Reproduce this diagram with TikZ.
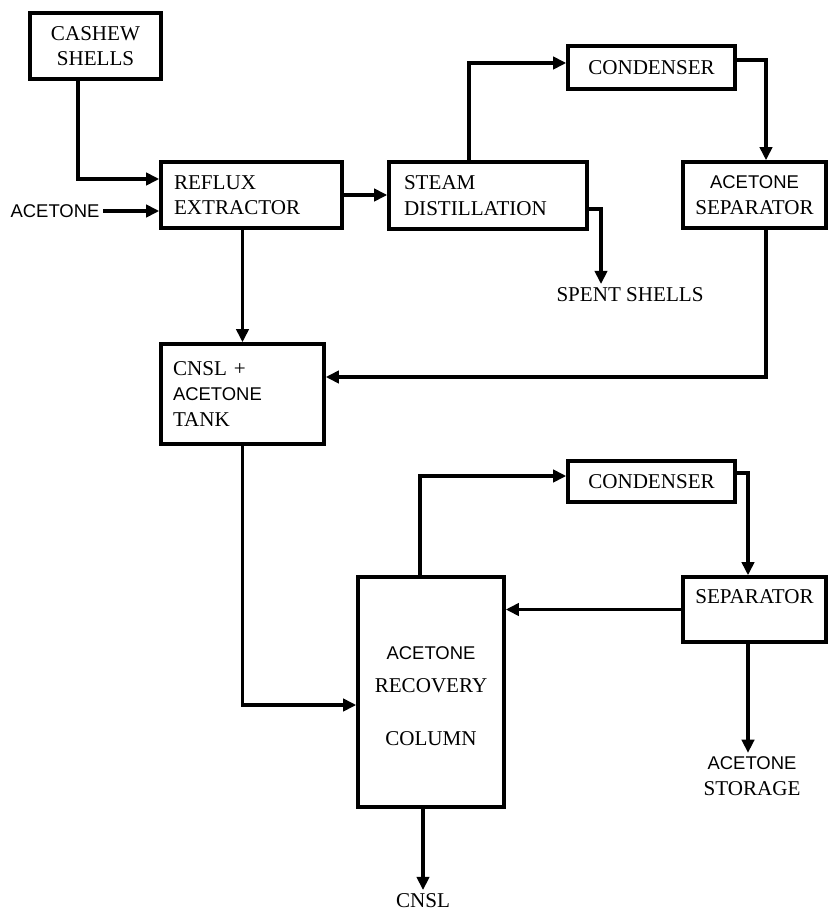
\documentclass[tikz,border=0pt]{standalone}
\usepackage{fontspec}
\setmainfont{Liberation Serif}
\setsansfont{Liberation Sans}
\usepackage{tikz}
\usetikzlibrary{calc,arrows.meta,positioning}
\newcommand{\sanstext}[1]{{\sffamily\fontsize{10.5}{12}\selectfont #1}}

\begin{document}
\begin{tikzpicture}[
  x=0.02cm, y=-0.02cm,
  box/.style={draw, line width=2pt, inner sep=0, align=center, font=\fontsize{12}{14.5}\selectfont},
  lbox/.style={box, align=left},
  lab/.style={align=center, inner sep=2pt, font=\fontsize{12}{14.5}\selectfont},
  arr/.style={-{Triangle[length=7.5pt, width=7pt]}, line width=1.9pt}
]
\useasboundingbox (0,0) rectangle (830,912);
% first stage: extraction
\node[box, minimum width=2.62cm, minimum height=1.32cm] (cashew) at (95.5,46) {CASHEW\\SHELLS};
\node[lbox, text width=3.1cm, inner xsep=0.26cm, minimum height=1.32cm] (reflux) at (251.5,195) {REFLUX\\EXTRACTOR};
\node[lbox, text width=3.36cm, inner xsep=0.3cm, minimum height=1.34cm] (steam) at (488,195.5) {STEAM\\DISTILLATION};
\node[box, minimum width=3.34cm, minimum height=0.86cm] (cond1) at (651.5,67.5) {CONDENSER};
\node[box, minimum width=2.86cm, minimum height=1.32cm] (sep1) at (754.5,195) {\sanstext{ACETONE}\\SEPARATOR};
\node[lab, font=\sffamily\fontsize{10.5}{12}\selectfont] (acetone) at (55,211) {ACETONE};
\node[lab] (spent) at (630,295) {SPENT SHELLS};
\node[lbox, text width=2.78cm, inner xsep=0.24cm, minimum height=2cm] (tank) at (242.5,394) {CNSL +\\\sanstext{ACETONE}\\TANK};
% second stage: acetone recovery
\node[box, minimum width=2.92cm, minimum height=4.6cm] (column) at (431,692)
  {\mbox{}\\[-2.6pt]\sanstext{ACETONE}\\[4.3pt]RECOVERY\\[15.6pt]COLUMN};
\node[box, minimum width=3.34cm, minimum height=0.82cm] (cond2) at (651.5,481.5) {CONDENSER};
\node[box, minimum width=2.86cm, minimum height=1.3cm] (sep2) at (754.5,609.5) {SEPARATOR\\\mbox{}};
\node[lab] (storage) at (752,776) {\sanstext{ACETONE}\\STORAGE};
\node[lab] (cnsl) at (423,901) {CNSL};

\draw[arr] (cashew.south -| 78,0) |- (reflux.west |- 0,179);
\draw[arr] (acetone.east) -- (reflux.west |- acetone.east);
\draw[arr] (reflux.east) -- (steam.west |- reflux.east);
\draw[arr] (steam.north -| 469,0) |- (cond1.west |- 0,63);
\draw[arr, line width=2.4pt] (cond1.east |- 0,60) -| (sep1.north -| 766,0);
\draw[arr] (steam.east |- 0,209) -| (spent.north -| 601,0);
\draw[arr, line width=2.6pt] (sep1.south -| 766,0) |- (tank.east |- 0,377);
\draw[arr] (reflux.south -| tank.north) -- (tank.north);
\draw[arr] (tank.south) |- (column.west |- 0,705);
\draw[arr] (column.north -| 420,0) |- (cond2.west |- 0,476);
\draw[arr] (cond2.east |- 0,473) -| (sep2.north -| 748,0);
\draw[arr] (sep2.west) -- (column.east |- sep2.west);
\draw[arr] (sep2.south -| 748,0) -- (storage.north -| 748,0);
\draw[arr] (column.south -| 423,0) -- (cnsl.north -| 423,0);
\end{tikzpicture}
\end{document}
